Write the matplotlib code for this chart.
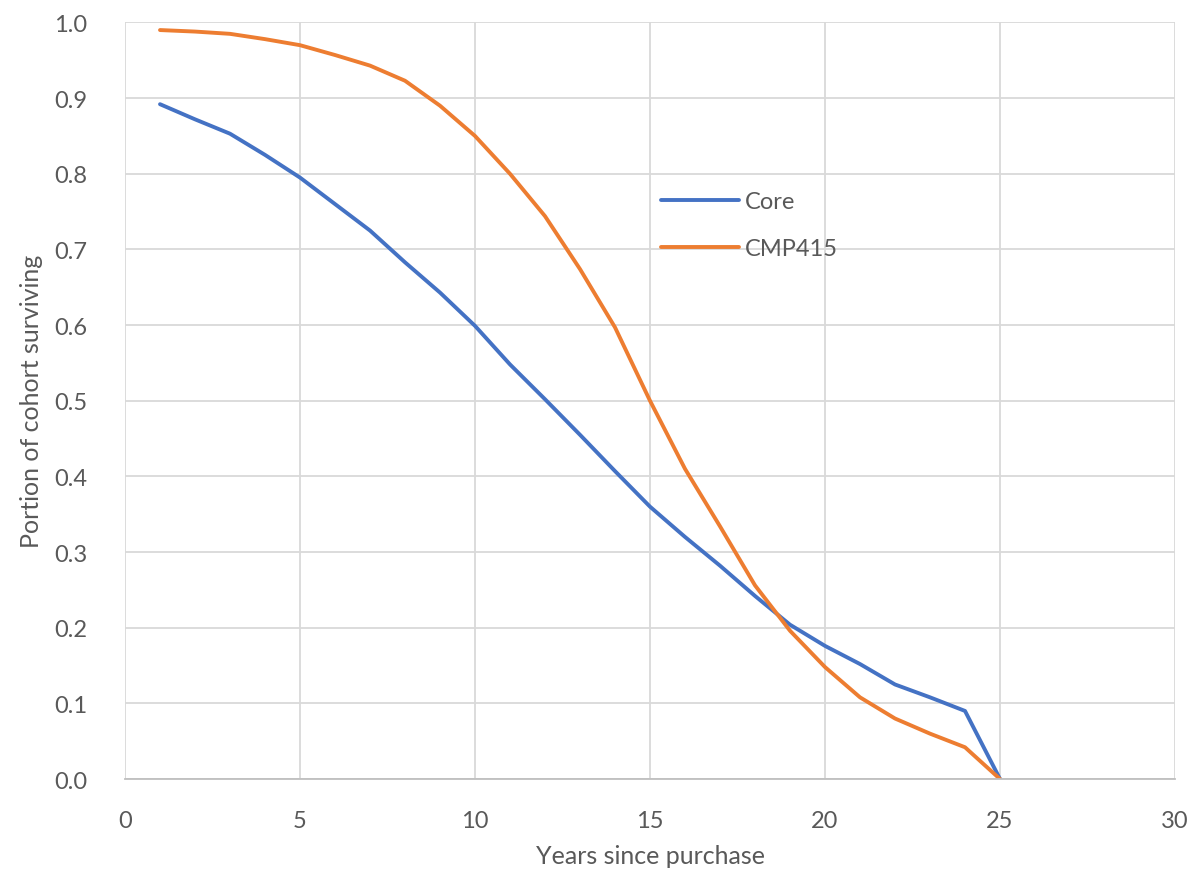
import matplotlib.pyplot as plt

# Survival curves by years since purchase
years = list(range(1, 26))
core = [0.892, 0.872, 0.853, 0.825, 0.795, 0.760, 0.725, 0.683, 0.643, 0.599,
        0.548, 0.502, 0.455, 0.407, 0.360, 0.320, 0.282, 0.242, 0.204, 0.176,
        0.152, 0.125, 0.108, 0.090, 0.0]
cmp415 = [0.990, 0.988, 0.985, 0.978, 0.970, 0.957, 0.943, 0.923, 0.890, 0.850,
          0.800, 0.744, 0.674, 0.597, 0.500, 0.410, 0.334, 0.256, 0.196, 0.148,
          0.108, 0.080, 0.060, 0.042, 0.0]

plt.rcParams['font.family'] = ['Lato', 'DejaVu Sans']

text_color = '#595959'
grid_color = '#d9d9d9'

fig = plt.figure(figsize=(11.94, 8.70), dpi=100)
ax = fig.add_axes([0.1047, 0.1034, 0.8794, 0.8696])

ax.plot(years, core, color='#4472C4', lw=2.8, label='Core', solid_capstyle='round')
ax.plot(years, cmp415, color='#ED7D31', lw=2.8, label='CMP415', solid_capstyle='round')

ax.set_xlim(0, 30)
ax.set_ylim(0, 1.0)
ax.set_xticks(range(0, 31, 5))
ax.set_yticks([i / 10 for i in range(11)])
ax.set_yticklabels([f'{i / 10:.1f}' for i in range(11)])
ax.grid(True, color=grid_color, lw=1.3)
ax.set_axisbelow(True)
ax.tick_params(length=0, labelsize=17, labelcolor=text_color)
ax.tick_params(axis='x', pad=22)
ax.tick_params(axis='y', pad=27)

for side in ['top', 'right', 'left']:
    ax.spines[side].set_visible(False)
ax.spines['bottom'].set_color('#bfbfbf')
ax.spines['bottom'].set_linewidth(1.3)

ax.set_xlabel('Years since purchase', fontsize=18, color=text_color, labelpad=10)
ax.set_ylabel('Portion of cohort surviving', fontsize=18, color=text_color, labelpad=8)

ax.legend(loc='upper left', bbox_to_anchor=(0.49, 0.805), frameon=False,
          fontsize=17, labelcolor=text_color, handlelength=3.3, handletextpad=0.25,
          labelspacing=1.1)

fig.savefig('out.png', dpi=100)
